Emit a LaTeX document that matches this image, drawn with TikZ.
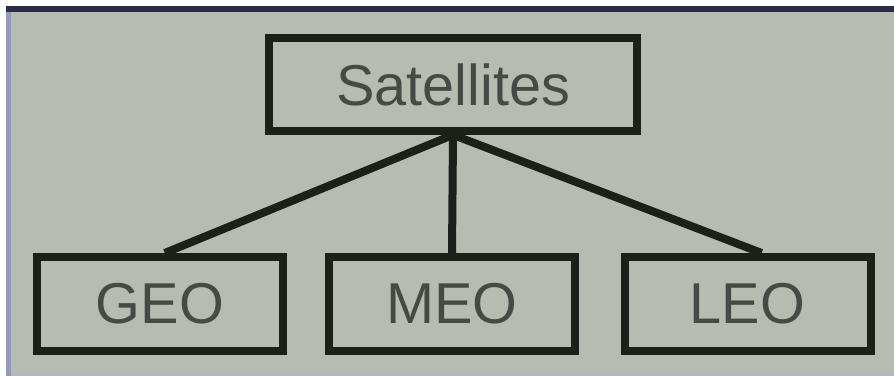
\documentclass[tikz,border=0pt]{standalone}
\usepackage{fontspec}
\setmainfont{Liberation Sans}
\definecolor{screen}{HTML}{B7BCB0}
\definecolor{ink}{HTML}{1B2019}
\definecolor{label}{HTML}{464A45}
\definecolor{topedge}{HTML}{2B2E45}
\definecolor{sideedge}{HTML}{9699BC}
\definecolor{footedge}{HTML}{B2B6CC}
\tikzset{
	orbitbox/.style={draw=ink,
		line width=0.2cm,
		fill=screen,
		text=label,
		font=\fontsize{41}{41}\selectfont,
		minimum width=6.15cm,
		minimum height=2.35cm,
		inner sep=0pt},
	branch/.style={draw=ink, line width=0.2cm}
}
\begin{document}
\begin{tikzpicture}
\useasboundingbox (0,0) rectangle (22.35,9.4);

%Screen
\fill[white] (0,0) rectangle (22.35,9.4);
\fill[screen] (0.18,0) rectangle (22.35,9.1);
\fill[topedge] (0.15,9.1) rectangle (22.35,9.25);
\fill[sideedge] (0.15,0) rectangle (0.27,9.1);
\fill[footedge] (0.27,0) rectangle (22.35,0.07);

%Satellites
\node [orbitbox,
	minimum width=9.2cm,
	minimum height=2.325cm,
]  (sat)at (11.325,7.29) {Satellites};

%Orbits
\node [orbitbox]  (geo)at (4.0,1.8) {GEO};
\node [orbitbox]  (meo)at (11.3,1.8) {MEO};
\node [orbitbox]  (leo)at (18.69,1.8) {LEO};

%Branches
\draw[branch]  (sat.south)--([xshift=0.12cm]geo.north);
\draw[branch]  (sat.south)--(meo.north);
\draw[branch]  (sat.south)--([xshift=0.35cm]leo.north);

\end{tikzpicture}
\end{document}
